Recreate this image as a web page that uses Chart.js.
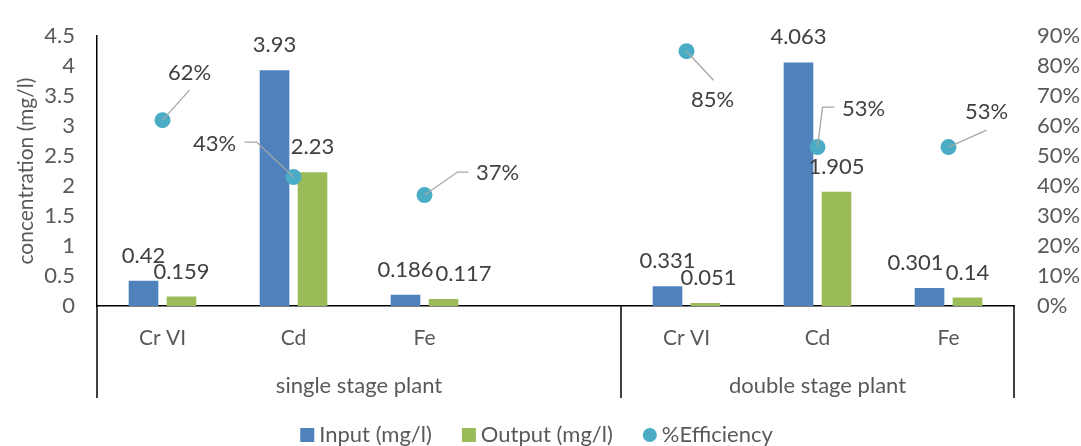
<!DOCTYPE html>
<html>
<head>
<meta charset="utf-8">
<script src="https://cdn.jsdelivr.net/npm/chart.js@4"></script>
<style>
  html, body { margin: 0; padding: 0; background: #fff; }
  #wrap { width: 1081px; height: 446px; }
</style>
</head>
<body>
<div id="wrap"><canvas id="plantChart"></canvas></div>
<script>
const elements = ["Cr VI", "Cd", "Fe", "", "Cr VI", "Cd", "Fe"];
const stages = ["single stage plant", "double stage plant"];
const stageSizes = [4, 3];
const inputConc = [0.42, 3.93, 0.186, null, 0.331, 4.063, 0.301];
const outputConc = [0.159, 2.23, 0.117, null, 0.051, 1.905, 0.14];
const efficiency = [62, 43, 37, null, 85, 53, 53];
const concTicks = { min: 0, max: 4.5, step: 0.5 };
const effTicks = { min: 0, max: 90, step: 10 };

const textColor = "#595959";
const labelColor = "#404040";
const fontFamily = "Lato, 'Liberation Sans', sans-serif";
const blue = "#4F81BD";
const green = "#9BBB59";
const teal = "#4BACC6";

// nudges for the bar value labels that would collide
const inputShift = [[0, 0], [0, 0], [0, 0], null, [0, 0], [0, 0], [-14, 0]];
const outputShift = [[0, 0], [0, 0], [20, 0], null, [3, 0], [0, 0], [0, 0]];
// efficiency callouts: text centre and leader bends, relative to the point
const effCallouts = [
  { text: [27, -47], path: [[27, -30]] },
  { text: [-79, -33], path: [[-37, -35], [-49, -35]] },
  { text: [73, -22], path: [[33, -23], [44, -23]] },
  null,
  { text: [26, 49], path: [[27, 29]] },
  { text: [46, -38], path: [[5, -40], [17, -40]] },
  { text: [38, -35], path: [[38, -17]] }
];

const AXIS_H = 92;

const valueLabels = {
  id: "valueLabels",
  afterDatasetsDraw(chart) {
    const ctx = chart.ctx;
    ctx.save();
    ctx.font = "22px " + fontFamily;
    ctx.fillStyle = labelColor;
    ctx.textAlign = "center";
    ctx.textBaseline = "middle";
    [[0, inputShift], [1, outputShift]].forEach(([di, shifts]) => {
      const meta = chart.getDatasetMeta(di);
      meta.data.forEach((bar, i) => {
        const v = chart.data.datasets[di].data[i];
        if (v == null) return;
        const s = shifts[i] || [0, 0];
        ctx.fillText(String(v), bar.x + s[0], bar.y - 25 + s[1]);
      });
    });
    const pm = chart.getDatasetMeta(2);
    pm.data.forEach((pt, i) => {
      const v = efficiency[i];
      const c = effCallouts[i];
      if (v == null || !c) return;
      ctx.strokeStyle = "#A6A6A6";
      ctx.lineWidth = 1.3;
      ctx.beginPath();
      ctx.moveTo(pt.x, pt.y);
      c.path.forEach(p => ctx.lineTo(pt.x + p[0], pt.y + p[1]));
      ctx.stroke();
      ctx.fillText(v + "%", pt.x + c.text[0], pt.y + c.text[1]);
    });
    ctx.restore();
  }
};

// second row of category labels, group dividers and the legend
const stageAxis = {
  id: "stageAxis",
  afterDraw(chart) {
    const { ctx, chartArea } = chart;
    const x = chart.scales.x;
    const half = (x.getPixelForValue(1) - x.getPixelForValue(0)) / 2;
    const top = chartArea.bottom;
    const bottom = top + AXIS_H;
    ctx.save();
    ctx.strokeStyle = "#000";
    ctx.lineWidth = 1.5;
    ctx.font = "22px " + fontFamily;
    ctx.fillStyle = textColor;
    ctx.textAlign = "center";
    ctx.textBaseline = "middle";
    let start = 0;
    const edges = [x.getPixelForValue(0) - half];
    stageSizes.forEach((n, g) => {
      const left = x.getPixelForValue(start) - half;
      const right = x.getPixelForValue(start + n - 1) + half;
      edges.push(right);
      ctx.fillText(stages[g], (left + right) / 2, top + 80);
      start += n;
    });
    edges.forEach(e => {
      ctx.beginPath();
      ctx.moveTo(Math.round(e), top);
      ctx.lineTo(Math.round(e), bottom);
      ctx.stroke();
    });

    // legend
    ctx.font = "22px " + fontFamily;
    const items = chart.data.datasets.map(d => ({ label: d.label, color: d.backgroundColor, round: d.type === "line" }));
    const box = 14, gap = 5, spacing = 30;
    const widths = items.map(it => box + gap + ctx.measureText(it.label).width);
    const total = widths.reduce((a, b) => a + b, 0) + spacing * (items.length - 1);
    let cx = chart.width / 2 - total / 2 - 4;
    const ly = 435;
    ctx.textAlign = "left";
    items.forEach((it, i) => {
      ctx.fillStyle = it.color;
      if (it.round) {
        ctx.beginPath();
        ctx.arc(cx + box / 2, ly, box / 2, 0, Math.PI * 2);
        ctx.fill();
      } else {
        ctx.fillRect(cx, ly - box / 2, box, box);
      }
      ctx.fillStyle = textColor;
      ctx.fillText(it.label, cx + box + gap, ly);
      cx += widths[i] + spacing;
    });
    ctx.restore();
  }
};

new Chart(document.getElementById("plantChart"), {
  data: {
    labels: elements,
    datasets: [
      {
        type: "bar",
        label: "Input (mg/l)",
        data: inputConc,
        backgroundColor: blue,
        yAxisID: "y",
        order: 1
      },
      {
        type: "bar",
        label: "Output (mg/l)",
        data: outputConc,
        backgroundColor: green,
        yAxisID: "y",
        order: 1
      },
      {
        type: "line",
        label: "%Efficiency",
        data: efficiency,
        backgroundColor: teal,
        borderColor: teal,
        showLine: false,
        pointRadius: 8,
        pointBorderWidth: 0,
        pointHoverRadius: 8,
        yAxisID: "y2",
        order: 0
      }
    ]
  },
  options: {
    responsive: true,
    maintainAspectRatio: false,
    animation: false,
    events: [],
    layout: { padding: { top: 21, bottom: 446 - 306 - AXIS_H, left: 0, right: 0 } },
    datasets: {
      bar: { categoryPercentage: 0.58, barPercentage: 0.78 }
    },
    plugins: {
      legend: { display: false },
      tooltip: { enabled: false }
    },
    scales: {
      x: {
        grid: { display: false, drawTicks: false },
        border: { display: true, color: "#000", width: 1.5 },
        ticks: { color: textColor, font: { family: fontFamily, size: 21 }, padding: 20, maxRotation: 0, autoSkip: false },
        afterFit(scale) { scale.height = AXIS_H; }
      },
      y: {
        position: "left",
        min: concTicks.min,
        max: concTicks.max,
        grid: { display: false, drawTicks: false },
        border: { display: true, color: "#000", width: 1.5 },
        ticks: { stepSize: concTicks.step, color: textColor, font: { family: fontFamily, size: 22 }, padding: 22, callback: v => String(+v.toFixed(1)) },
        title: { display: true, text: "concentration (mg/l)", color: textColor, font: { family: fontFamily, size: 21 }, padding: { top: 14, bottom: 0 } },
        afterFit(scale) { scale.width = 97; }
      },
      y2: {
        position: "right",
        min: effTicks.min,
        max: effTicks.max,
        grid: { display: false, drawTicks: false },
        border: { display: false },
        ticks: { stepSize: effTicks.step, color: textColor, font: { family: fontFamily, size: 22 }, padding: 23, callback: v => v + "%" },
        afterFit(scale) { scale.width = 67; }
      }
    }
  },
  plugins: [valueLabels, stageAxis]
});
</script>
</body>
</html>
